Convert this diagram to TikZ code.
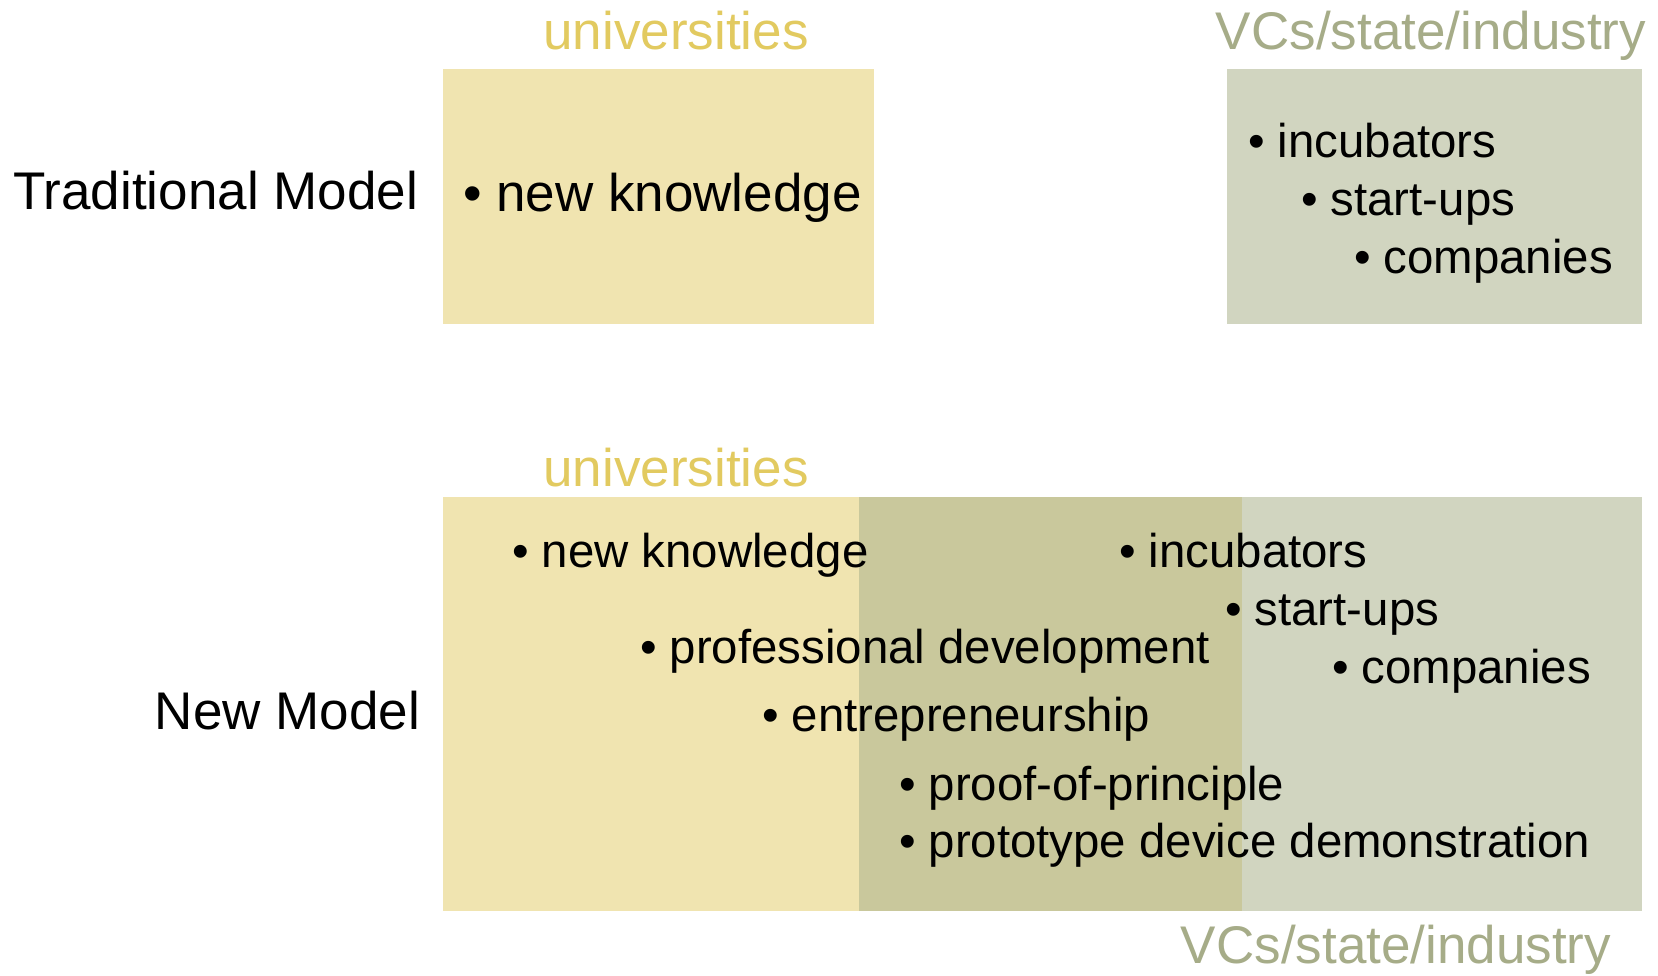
\documentclass[tikz,border=0pt]{standalone}
\usepackage{fontspec}
\setmainfont{Liberation Sans}
\definecolor{uniFill}{HTML}{F0E4B0}
\definecolor{bothFill}{HTML}{C9C89C}
\definecolor{vcFill}{HTML}{D1D5C0}
\definecolor{uniText}{HTML}{E2CA60}
\definecolor{vcText}{HTML}{A6AC88}
\begin{document}
\begin{tikzpicture}[x=0.5pt,y=-0.5pt,
  txt/.style={inner sep=0pt, outer sep=0pt, font=\fontsize{26.5}{30}\selectfont, text=black},
  item/.style={txt, anchor=base west},
  smallitem/.style={item, font=\fontsize{23.7}{27}\selectfont},
  unilabel/.style={txt, anchor=base, text=uniText},
  vclabel/.style={txt, anchor=base, text=vcText}]
\useasboundingbox[fill=white] (0,0) rectangle (1658,975);
% Traditional model
\fill[uniFill] (443,69) rectangle (874,324);
\fill[vcFill] (1227,69) rectangle (1642,324);
\node[unilabel] (uniT) at (676,49) {universities};
\node[vclabel] (vcT) at (1431,49) {VCs/state/industry};
\node[txt, anchor=base east] (trad) at (418,209) {Traditional Model};
\node[item] (nkT) at (463,211) {• new knowledge};
\node[smallitem] (incT) at (1248,157) {• incubators};
\node[smallitem] (suT) at (1301,215) {• start-ups};
\node[smallitem] (coT) at (1354,273) {• companies};
% New model
\fill[uniFill] (443,497) rectangle (859,911);
\fill[bothFill] (859,497) rectangle (1242,911);
\fill[vcFill] (1242,497) rectangle (1642,911);
\node[unilabel] (uniN) at (676,486) {universities};
\node[vclabel] (vcN) at (1396,963) {VCs/state/industry};
\node[txt, anchor=base east] (newm) at (420,729) {New Model};
\node[smallitem] (nkN) at (512,567) {• new knowledge};
\node[smallitem] (incN) at (1119,567) {• incubators};
\node[smallitem] (suN) at (1225,625) {• start-ups};
\node[smallitem] (pdN) at (640,663) {• professional development};
\node[smallitem] (coN) at (1332,683) {• companies};
\node[smallitem] (enN) at (762,731) {• entrepreneurship};
\node[smallitem] (ppN) at (899,800) {• proof-of-principle};
\node[smallitem] (prN) at (899,857) {• prototype device demonstration};
\end{tikzpicture}
\end{document}
